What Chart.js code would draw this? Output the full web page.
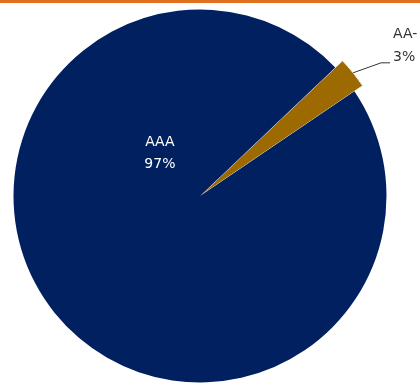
<!DOCTYPE html>
<html>
<head>
<meta charset="utf-8">
<script src="https://cdn.jsdelivr.net/npm/chart.js@4"></script>
<style>
  html, body { margin: 0; padding: 0; background: #fff; }
  #wrap { position: relative; width: 420px; height: 383px; overflow: hidden; }
  #bar { position: absolute; left: 0; top: 0; width: 420px; height: 3px; background: #e0701f; z-index: 2; }
  canvas { position: absolute; left: 0; top: 0; }
</style>
</head>
<body>
<div id="wrap">
  <div id="bar"></div>
  <canvas id="pie" width="420" height="383"></canvas>
</div>
<script>
// ratings split
const labels = ["AA-", "AAA"];
const values = [2.6, 97.4];
const colors = ["#9c6a00", "#002060"];

const FONT = "DejaVu Sans, Verdana, sans-serif";

// the small slice sticks out past the rim a bit
const popOut = {
  id: "popOut",
  afterDatasetsUpdate(chart) {
    const arc = chart.getDatasetMeta(0).data[0];
    if (arc) arc.outerRadius += 10;
  }
};

const sliceLabels = {
  id: "sliceLabels",
  afterDatasetsDraw(chart) {
    const ctx = chart.ctx;
    const meta = chart.getDatasetMeta(0);
    const total = values.reduce((a, b) => a + b, 0);
    const pct = v => Math.round(v / total * 100) + "%";
    ctx.save();
    ctx.font = "14px " + FONT;
    ctx.textBaseline = "middle";

    // big slice: label inside
    const big = meta.data[1];
    const bx = big.x - big.outerRadius * 0.215;
    const by = big.y - big.outerRadius * 0.29;
    ctx.fillStyle = "#ffffff";
    ctx.textAlign = "center";
    ctx.fillText(labels[1], bx, by);
    ctx.fillText(pct(values[1]), bx, by + 22);

    // small slice: leader line + outside label
    const sm = meta.data[0];
    const mid = (sm.startAngle + sm.endAngle) / 2;
    const sx = sm.x + Math.cos(mid) * sm.outerRadius;
    const sy = sm.y + Math.sin(mid) * sm.outerRadius;
    const ex = sx + 28, ey = sy - 10;
    ctx.strokeStyle = "#333";
    ctx.lineWidth = 1;
    ctx.beginPath();
    ctx.moveTo(sx, sy);
    ctx.lineTo(ex, ey);
    ctx.lineTo(ex + 9, ey);
    ctx.stroke();
    ctx.fillStyle = "#333";
    ctx.textAlign = "left";
    ctx.fillText(labels[0], ex + 12, ey - 28);
    ctx.fillText(pct(values[0]), ex + 12, ey - 5);
    ctx.restore();
  }
};

new Chart(document.getElementById("pie"), {
  type: "pie",
  data: {
    labels,
    datasets: [{
      data: values,
      backgroundColor: colors,
      borderColor: "#f4eee0",
      borderWidth: [1, 0],
      clip: false
    }]
  },
  options: {
    responsive: false,
    animation: false,
    rotation: 46.5,
    layout: { padding: { top: 9, bottom: 0, left: 13, right: 33 } },
    plugins: { legend: { display: false }, tooltip: { enabled: false } }
  },
  plugins: [popOut, sliceLabels]
});
</script>
</body>
</html>
